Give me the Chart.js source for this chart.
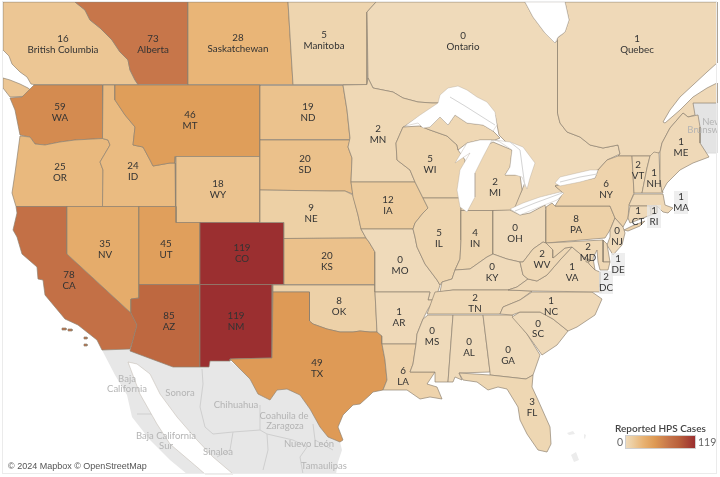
<!DOCTYPE html>
<html>
<head>
<meta charset="utf-8">
<style>
html, body { margin: 0; padding: 0; background: #fff; }
canvas { display: block; }
</style>
<script src="https://cdn.jsdelivr.net/npm/chart.js@4/dist/chart.umd.js"></script>
</head>
<body>
<canvas id="myChart" width="720" height="477"></canvas>
<script>
// reported cases by state / province
const regions = ['British Columbia','Alberta','Saskatchewan','Manitoba','Ontario','Quebec','WA','OR','CA','ID','NV','MT','WY','UT','AZ','CO','NM','ND','SD','NE','KS','OK','TX','MN','IA','MO','AR','LA','WI','IL','MI','IN','OH','KY','TN','MS','AL','GA','FL','SC','NC','VA','WV','PA','NY','VT','NH','ME','MA','CT','RI','NJ','DE','MD','DC'];
const cases = [16,73,28,5,0,1,59,25,78,24,35,46,18,45,85,119,119,19,20,9,20,8,49,2,12,0,1,6,5,5,2,4,0,0,2,0,0,0,3,0,1,1,2,8,6,2,1,1,1,1,1,0,1,2,2];
const scaleMax = 119;
const legendTitle = 'Reported HPS Cases';
const mapCredit = '© 2024 Mapbox © OpenStreetMap';

// colour ramp of the legend
const rampStops = [0, 10, 30, 50, 75, 90, 119];
const rampColors = [[239,218,186],[237,207,163],[232,178,114],[221,153,84],[197,115,73],[186,98,60],[155,47,48]];

// outlines in map units
const outlines = {
  'British Columbia': [[[3,2],[75,2],[85,10],[90,20],[100,28],[105,33],[112,40],[120,52],[128,60],[130,70],[135,80],[138,84.5],[34,84.5],[31,84],[27,77],[20,72],[12,64],[9,56],[3,50]],
    [[3,78],[10,80],[20,84],[28,88],[33,92],[30,96],[10,97],[3,88]]],
  'Alberta': [[[75,2],[188,2],[188,84.5],[138,84.5],[135,80],[130,70],[128,60],[120,52],[112,40],[105,33],[100,28],[90,20],[85,10]]],
  'Saskatchewan': [[[188,2],[288,2],[293,84.5],[188,84.5]]],
  'Manitoba': [[[288,2],[376,2],[367,12],[367,84.5],[293,84.5]]],
  'Ontario': [[[376,2],[525,2],[533,17],[545,33],[555,43],[557.5,40],[557.5,113],[560,123],[567,132],[580,137],[590,145],[603,148],[618,145],[620,154],[607,160],[598,170],[575,176],[555,186],[563,192],[540,198],[512,210],[522,190],[530,170],[510,146],[505,141],[499,135],[495,115],[480,100],[438,103],[432,103],[418,102],[403,98],[393,92],[373,88],[368,78],[367,12]]],
  'Quebec': [[[565,2],[717,2],[717,63],[707,72],[693,85],[680,97],[670,110],[663,122],[665,123],[680,110],[693,97],[707,88],[717,83],[717,103],[693,103],[695,115],[688,117],[683,113],[670,128],[662,143],[660,152],[654,156],[618,156],[620,154],[618,145],[603,148],[590,145],[580,137],[567,132],[560,123],[557.5,113],[557.5,38],[565,32],[569,20]]],
  'WA': [[[34,85],[102.5,85],[102.5,138.5],[75,140],[60,142],[45,145],[35,144],[30,137],[20,135],[17,120],[15,110],[10,98],[22,97],[27,92]]],
  'OR': [[[20,136],[30,137],[35,144],[45,145],[60,142],[75,140],[102.5,138.5],[108,140],[110,145],[100,162],[103,170],[102.5,206.5],[16,206.5],[12,193],[15,173]]],
  'CA': [[[16,206.5],[67,206.5],[67,254],[131,313],[137,325],[133,340],[130,349],[102,350],[97,340],[78,325],[65,319],[45,295],[43,280],[38,279],[37,267],[22,254],[17,237],[13,230],[17,213]],
    [[62,328],[66,328],[66,330],[62,330]],[[68,329],[72,329],[72,331],[68,331]],[[84,337],[87,337],[87,339],[84,339]],[[84,344],[87,344],[87,346],[84,346]]],
  'ID': [[[103,85],[115,85],[115,100],[125,115],[135,127],[133,145],[143,147],[150,160],[153,166],[170,163],[175,163],[175.5,206.5],[102.5,206.5],[103,170],[100,162],[110,145],[108,140],[102.5,138.5]]],
  'NV': [[[67,206.5],[139,206.5],[139,298],[131,299],[131,313],[67,254]]],
  'MT': [[[115,85],[260,85],[260,156.5],[175.5,156.5],[175,163],[170,163],[153,166],[150,160],[143,147],[133,145],[135,127],[125,115],[115,100]]],
  'WY': [[[176,156.5],[260,156.5],[260,222.5],[176,222.5]]],
  'UT': [[[139,206.5],[176,206.5],[176,222.5],[200,222.5],[200,284.5],[139,284.5]]],
  'AZ': [[[139,284.5],[200,284.5],[200,367],[173,367],[130,351],[133,340],[137,325],[131,313],[131,299],[139,298]]],
  'CO': [[[200,222.5],[284,222.5],[284,284.5],[200,284.5]]],
  'NM': [[[200,284.5],[272.5,284.5],[272,358],[230,359],[230,361],[210,361],[209,367],[200,367]]],
  'ND': [[[260,85.5],[343,85.5],[347,110],[350,139.5],[260,139.5]]],
  'SD': [[[260,140],[350,140],[348,147],[352,158],[351,182],[353,194],[345,191],[330,191],[260,190]]],
  'NE': [[[260,190],[330,191],[345,191],[353,195],[358,215],[361,229],[366,238],[284,238.5],[284,222.5],[260,222.5]]],
  'KS': [[[284,238.5],[366,238],[369,242],[375,252],[375,284.5],[284,284.5]]],
  'OK': [[[273,285],[375,285],[375,292],[377,332],[370,332],[360,331],[353,332],[340,332],[327,329],[313,324],[309.5,321],[309.5,292],[273,292]]],
  'TX': [[[273,292],[309.5,292],[309.5,321],[313,324],[327,329],[340,332],[353,332],[360,331],[370,332],[377,332],[382,336],[382,344],[385,360],[387,380],[383,390],[373,392],[370,395],[360,404],[353,405],[343,415],[338,427],[343,440],[340,442],[328,437],[320,427],[310,409],[300,395],[287,389],[277,390],[270,400],[258,394],[250,379],[240,369],[230,359],[272,358]]],
  'MN': [[[343,85],[367,84.5],[368,78],[373,88],[393,92],[403,98],[418,102],[432,103],[440,103],[405,126],[403,127],[396,143],[397,160],[410,170],[415,182],[351,182],[352,158],[348,147],[350,138],[347,110]]],
  'IA': [[[351,182],[415,182],[423,198],[428,208],[423,213],[415,223],[413,229],[361,229],[358,215],[353,197]]],
  'MO': [[[361,229],[413,229],[415,237],[417,247],[425,264],[437,280],[440,285],[436,298],[434,300],[428,300],[430,292],[375,292],[375,252],[369,242],[366,238]]],
  'AR': [[[375,292],[430,292],[428,300],[434,300],[428,309],[423,319],[417,334],[416,344],[382,344],[382,336],[377,332]]],
  'LA': [[[382,344],[416,344],[413,364],[410,372],[435,372],[427,384],[437,387],[442,399],[430,397],[420,399],[407,390],[393,390],[383,390],[387,380],[385,360]]],
  'WI': [[[403,127],[420,126],[430,130],[447,136],[457,145],[458,150],[465,160],[460,198],[423,198],[415,182],[410,170],[397,160],[396,143]]],
  'IL': [[[423,198],[460,198],[461,210],[461,240],[460,259],[455,270],[452,279],[442,282],[440,285],[437,280],[425,264],[417,247],[415,237],[413,229],[415,223],[423,213],[428,208]]],
  'MI': [[[420,126],[430,127],[440,117],[448,125],[455,115],[467,123],[483,125],[493,131],[500,138],[495,140],[480,140],[467,143],[458,150],[457,145],[447,136],[430,130]],
    [[478,150],[493,142],[512,150],[510,167],[505,175],[520,175],[522,190],[515,207],[510,210.5],[461,210.5],[462,190],[470,160]]],
  'IN': [[[461,210.5],[493,210.5],[493,254],[487,257],[470,269],[455,270],[460,259],[461,240]]],
  'OH': [[[493,210.5],[510,210],[520,215],[530,213],[545,205],[546,210],[546,243],[543,242],[533,249],[523,262],[520,262],[507,259],[493,254]]],
  'KY': [[[440,292],[442,282],[452,279],[455,270],[470,269],[487,257],[493,254],[507,259],[520,262],[523,275],[528,279],[517,287],[508,290],[453,290]]],
  'TN': [[[427,314],[435,292],[453,290],[508,290],[532,291],[520,300],[503,307],[500,314]]],
  'MS': [[[428,315],[453,315],[448,382],[435,382],[435,372],[410,372],[413,364],[416,344],[417,334],[423,319]]],
  'AL': [[[453,315],[483,315],[490,372],[459,373],[462,380],[455,377],[453,382],[448,382]]],
  'GA': [[[483,315],[512,315],[527,334],[540,355],[533,375],[526,379],[490,375],[490,372]]],
  'FL': [[[459,373],[490,375],[526,379],[533,375],[532,387],[538,400],[550,427],[551,444],[547,452],[538,450],[527,434],[520,420],[518,407],[507,389],[498,387],[488,390],[477,382],[463,380]]],
  'SC': [[[512,317],[520,312],[540,312],[553,319],[568,331],[557,345],[542,355],[527,334]]],
  'NC': [[[500,314],[503,307],[520,300],[532,292],[592,292],[602,299],[595,315],[577,327],[568,331],[553,319],[540,312],[520,312],[512,315]]],
  'VA': [[[508,290],[517,287],[528,279],[537,281],[547,275],[560,260],[572,247],[585,258],[590,265],[595,270],[600,272],[600,287],[602,292],[532,291]]],
  'WV': [[[546,243],[553,250],[553,258],[565,248],[572,247],[560,260],[547,275],[537,281],[528,279],[523,275],[520,262],[523,262],[533,249],[543,242]]],
  'PA': [[[546,207],[552,203],[555,206],[610,206],[615,218],[610,230],[605,238],[546,243]]],
  'NY': [[[618,156],[632,156],[634,193],[629,205],[628,218],[623,227],[615,218],[610,206],[555,206],[563,193],[555,186],[575,182],[595,178],[598,170],[607,160]],
    [[624,230],[632,226],[645,221],[640,226],[628,231]]],
  'VT': [[[632,156],[650,156],[647,168],[642,193],[634,193]]],
  'NH': [[[650,156],[654,152],[659,153],[660,180],[663,193],[642,193],[647,168]]],
  'ME': [[[660,152],[662,143],[670,128],[683,113],[688,117],[698,115],[700,127],[700,143],[709,157],[693,163],[680,170],[667,183],[662,192],[660,180]]],
  'MA': [[[634,194],[663,194],[665,205],[673,208],[668,213],[663,212],[657,206],[630,206],[629,205]]],
  'CT': [[[630,206],[650,206],[651,215],[630,223],[628,218]]],
  'RI': [[[651,206],[657,206],[657,213],[651,215]]],
  'NJ': [[[615,218],[623,227],[625,233],[622,245],[613,255],[607,245],[610,237],[610,230]]],
  'DE': [[[603,240],[607,244],[610,262],[603,262]]],
  'MD': [[[546,243],[603,240],[603,262],[610,262],[608,270],[600,270],[598,262],[597,250],[593,258],[595,270],[590,265],[585,258],[572,247],[565,248],[553,258],[553,250]]],
  'DC': [[[586,259],[589,259],[589,262],[586,262]]]
};

// background land, water and faint lines
const mexico = [[102,350],[130,349],[173,367],[200,367],[209,367],[210,361],[230,361],[240,369],[250,379],[258,394],[270,400],[277,390],[287,389],[300,395],[310,409],[320,427],[328,437],[340,442],[342,450],[338,462],[336,474],[187,474],[170,460],[150,440],[132,417],[127,395],[115,375]];
const newBrunswick = [[693,103],[717,103],[717,153],[706,153],[700,143],[700,127],[698,115],[695,115]];
const islands = [[[567,433],[573,431],[575,434],[569,435]],[[571,455],[576,452],[579,460],[574,462]],[[584,434],[586,435],[585,439],[584,438]]];
const lakes = [
  [[128,362],[137,364],[150,374],[160,394],[177,417],[197,440],[213,457],[233,474],[205,474],[197,467],[170,444],[157,424],[140,394]],
  [[525,2],[533,17],[545,33],[555,43],[558,37],[565,32],[569,20],[565,2]],
  [[405,126],[420,115],[438,103],[440,95],[448,88],[458,86],[467,90],[477,97],[487,102],[495,112],[497,125],[493,131],[483,125],[467,123],[455,115],[448,125],[440,117],[430,127],[423,128],[418,123]],
  [[455,163],[467,143],[480,140],[492,140],[483,157],[475,173],[475,197],[467,212],[460,207],[457,190],[460,170],[470,153]],
  [[495,140],[510,142],[523,147],[535,163],[530,178],[527,189],[522,177],[515,175],[505,175],[510,167],[512,150],[500,142]],
  [[510,209],[523,203],[540,197],[560,192],[564,193],[557,200],[537,208],[520,215]],
  [[555,183],[560,177],[577,173],[590,170],[598,170],[595,178],[580,182],[560,186]]
];
const waterLines = [
  [[450,97],[465,106],[495,125]], [[510,142],[520,150],[525,187]],
  [[515,211],[535,203],[562,193]], [[560,182],[580,177],[597,174]]
];
const mexicoLines = [
  [[202,369],[203,384],[200,407],[205,427],[213,434],[233,432],[260,430],[260,405]],
  [[233,432],[230,450],[217,457]], [[267,434],[268,450],[263,470]],
  [[293,440],[307,447],[300,457],[303,474]], [[313,424],[315,440],[333,450]],
  [[137,414],[153,414]], [[260,430],[267,434],[293,440]]
];

// where the labels sit, in map units: [x of text, y of first line, y of second line]
const labelSpots = {
  'British Columbia':[63,39,50],'Alberta':[153,39,50],'Saskatchewan':[238,38,49],'Manitoba':[324,35,46],'Ontario':[463,36,47],'Quebec':[637,39,50],
  WA:[60,107,118],OR:[60,167,178],CA:[69,275,286],ID:[133,166,177],NV:[105,244,255],MT:[190,115,126],WY:[218,184,195],UT:[166,244,255],AZ:[169,316,327],CO:[242,248,259],NM:[236,316,327],
  ND:[308,107,118],SD:[305,159,170],NE:[311,208,219],KS:[327,256,267],OK:[339,301,312],TX:[317,363,374],MN:[378,129,140],IA:[388,200,211],MO:[400,260,271],AR:[399,312,323],LA:[403,371,382],
  WI:[430,159,170],IL:[439,233,244],MI:[495,182,193],IN:[475,233,244],OH:[515,228,239],KY:[492,267,278],TN:[475,298,309],MS:[432,331,342],AL:[469,342,353],GA:[508,350,361],FL:[532,402,413],SC:[538,324,334],NC:[551,301,312],
  VA:[572,267,278],WV:[542,254,265],PA:[576,219,230],NY:[606,184,195],VT:[638,165,176],NH:[654,173,184],ME:[681,142,153],MA:[681,197,208],CT:[638,211,222],RI:[654,211,222],NJ:[617,231,242],DE:[618,259,270],MD:[588,247,258],DC:[606,277,288]
};
// grey chips behind labels that fall off the land
const chipLabels = ['MA','RI','DE','DC'];
const placeNames = [['Baja',127,379],['California',127,389],['Sonora',180,393],['Chihuahua',236,405],['Coahuila de',284,416],['Zaragoza',285,426],['Baja California',166,436],['Sur',166,446],['Sinaloa',218,452],['Nuevo León',309,444],['Tamaulipas',324,466],['New',712,122],['Brunswick',709,130]];

function rampColor(v) {
  let i = 0;
  while (i < rampStops.length - 2 && v > rampStops[i + 1]) i++;
  const t = (v - rampStops[i]) / (rampStops[i + 1] - rampStops[i]);
  const c = rampColors[i].map((a, k) => Math.round(a + (rampColors[i + 1][k] - a) * t));
  return `rgb(${c[0]},${c[1]},${c[2]})`;
}

function ring(points, fillColor, lineColor, lineWidth) {
  const data = points.map(p => ({ x: p[0], y: p[1] }));
  data.push({ x: points[0][0], y: points[0][1] });
  return { data, showLine: true, fill: 'shape', backgroundColor: fillColor, borderColor: lineColor, borderWidth: lineWidth, pointRadius: 0, tension: 0 };
}

function path(points, lineColor) {
  return { data: points.map(p => ({ x: p[0], y: p[1] })), showLine: true, fill: false, borderColor: lineColor, borderWidth: 1, pointRadius: 0, tension: 0 };
}

// paint order: first pushed ends up at the bottom
const painted = [];
painted.push(ring(mexico, '#e7e7e7', '#e7e7e7', 0));
painted.push(ring(newBrunswick, '#e4e4e4', '#dcdcdc', 1));
islands.forEach(r => painted.push(ring(r, '#ececec', '#ececec', 0)));
mexicoLines.forEach(l => painted.push(path(l, '#cfcfcf')));
regions.forEach((name, i) => {
  outlines[name].forEach(r => painted.push(ring(r, rampColor(cases[i]), 'rgba(140,128,112,0.75)', 0.9)));
});
lakes.forEach(r => painted.push(ring(r, '#ffffff', 'rgba(170,160,145,0.6)', 0.6)));
waterLines.forEach(l => painted.push(path(l, '#d4d4d4')));

const mapText = {
  id: 'mapText',
  beforeDraw(chart) {
    const { ctx, width, height } = chart;
    ctx.save();
    ctx.fillStyle = '#ffffff';
    ctx.fillRect(0, 0, width, height);
    ctx.restore();
  },
  afterDatasetsDraw(chart) {
    const { ctx, scales: { x, y } } = chart;
    ctx.save();
    ctx.textAlign = 'center';
    ctx.textBaseline = 'middle';

    // frame
    ctx.strokeStyle = '#ebebeb';
    ctx.lineWidth = 1;
    ctx.strokeRect(x.getPixelForValue(3) - 0.5, y.getPixelForValue(2) - 0.5, x.getPixelForValue(714), y.getPixelForValue(472));

    // mexico and new brunswick names
    ctx.save();
    ctx.beginPath();
    ctx.rect(0, 0, x.getPixelForValue(717), chart.height);
    ctx.clip();
    ctx.fillStyle = '#b4b4b4';
    ctx.font = '9.5px Lato';
    placeNames.forEach(p => ctx.fillText(p[0], x.getPixelForValue(p[1]), y.getPixelForValue(p[2])));
    ctx.restore();

    // chips
    ctx.fillStyle = 'rgba(232,232,232,0.75)';
    chipLabels.forEach(name => {
      const s = labelSpots[name];
      ctx.fillRect(x.getPixelForValue(s[0] - 7), y.getPixelForValue(s[1] - 6), 14, 23);
    });

    // value and name of every region
    ctx.fillStyle = '#333333';
    ctx.font = '9.8px Lato';
    regions.forEach((name, i) => {
      const s = labelSpots[name];
      ctx.fillText(String(cases[i]), x.getPixelForValue(s[0]), y.getPixelForValue(s[1]));
      ctx.fillText(name, x.getPixelForValue(s[0]), y.getPixelForValue(s[2]));
    });

    // credit
    ctx.textAlign = 'left';
    ctx.fillStyle = '#555555';
    ctx.font = '9px "Liberation Sans"';
    ctx.fillText(mapCredit, x.getPixelForValue(8), y.getPixelForValue(467));

    // legend
    const bx = x.getPixelForValue(626), bw = 69, by = y.getPixelForValue(436), bh = 12;
    const grad = ctx.createLinearGradient(bx, 0, bx + bw, 0);
    rampStops.forEach((v, i) => grad.addColorStop(v / scaleMax, rampColor(v)));
    ctx.fillStyle = grad;
    ctx.fillRect(bx, by, bw, bh);
    ctx.strokeStyle = '#cfcfcf';
    ctx.strokeRect(bx - 0.5, by - 0.5, bw + 1, bh + 1);
    ctx.fillStyle = '#444444';
    ctx.font = '600 10px Lato';
    ctx.fillText(legendTitle, x.getPixelForValue(615), y.getPixelForValue(429));
    ctx.fillStyle = '#666666';
    ctx.font = '10.5px Lato';
    ctx.fillText('119', x.getPixelForValue(698), y.getPixelForValue(442.5));
    ctx.textAlign = 'right';
    ctx.fillText('0', x.getPixelForValue(623), y.getPixelForValue(442.5));
    ctx.restore();
  }
};

new Chart(document.getElementById('myChart').getContext('2d'), {
  type: 'scatter',
  data: { datasets: painted.reverse() },
  options: {
    responsive: false,
    animation: false,
    layout: { padding: 0 },
    scales: {
      x: { type: 'linear', min: 0, max: 720, display: false },
      y: { type: 'linear', min: 0, max: 477, reverse: true, display: false }
    },
    plugins: { legend: { display: false }, tooltip: { enabled: false } }
  },
  plugins: [mapText]
});
</script>
</body>
</html>
